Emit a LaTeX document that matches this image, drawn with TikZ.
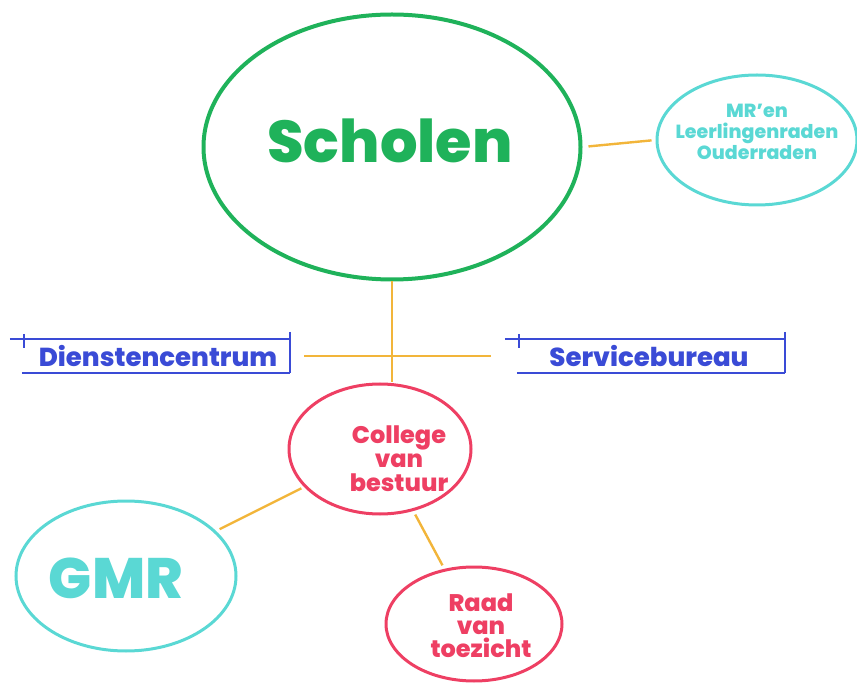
\documentclass[tikz,border=0pt]{standalone}
\usepackage{fontspec}
\setmainfont{Poppins}[BoldFont={Poppins ExtraBold}]
\usetikzlibrary{shapes.geometric}

\definecolor{schoolgreen}{HTML}{1FB25A}
\definecolor{raadteal}{HTML}{5AD8D4}
\definecolor{bestuurred}{HTML}{EE3F63}
\definecolor{bureaublue}{HTML}{3A4BD6}
\definecolor{lijnorange}{HTML}{F2B53A}

\tikzset{
	bubble/.style={ellipse,draw,line width=3pt,inner sep=0pt},
	bubbletekst/.style={align=center,inner sep=0pt},
	bureau/.style={minimum height=34pt,inner sep=0pt,text=bureaublue,font=\bfseries\fontsize{26}{28}\selectfont},
	bureaulijn/.style={draw=bureaublue,line width=2.2pt},
	verbinding/.style={draw=lijnorange,line width=2.4pt}
}

\begin{document}
\begin{tikzpicture}[x=1pt,y=-1pt]
			\useasboundingbox (0,0) rectangle (857,684);

			% de cirkels
			\node[bubble,draw=schoolgreen,line width=4pt,minimum width=377pt,minimum height=265pt,
				label={[bubbletekst,text=schoolgreen,font=\bfseries\fontsize{59}{62}\selectfont,xshift=-2pt,yshift=6pt]center:Scholen}] (scholen) at (392,147) {};
			\node[bubble,draw=raadteal,minimum width=200pt,minimum height=130pt,
				label={[bubbletekst,text=raadteal,font=\bfseries\fontsize{19}{21}\selectfont,yshift=8pt]center:{MR'en\\Leerlingenraden\\Ouderraden}}] (mr) at (757,140) {};
			\node[bubble,draw=bestuurred,minimum width=182pt,minimum height=130pt,
				label={[bubbletekst,text=bestuurred,font=\bfseries\fontsize{24}{24}\selectfont,xshift=19pt,yshift=-10pt]center:{College\\van\\bestuur}}] (cvb) at (380,449) {};
			\node[bubble,draw=raadteal,minimum width=220pt,minimum height=150pt,
				label={[bubbletekst,text=raadteal,font=\bfseries\fontsize{57}{60}\selectfont,xshift=-10pt,yshift=-2pt]center:GMR}] (gmr) at (126,576) {};
			\node[bubble,draw=bestuurred,minimum width=176pt,minimum height=114pt,
				label={[bubbletekst,text=bestuurred,font=\bfseries\fontsize{24}{23}\selectfont,xshift=7pt,yshift=-2pt]center:{Raad\\van\\toezicht}}] (rvt) at (474,624) {};

			% de bureaus
			\node[bureau,minimum width=280pt] (dienst) at (150,356) {\hspace*{16pt}Dienstencentrum};
			\node[bureau,minimum width=280pt] (service) at (645,356) {\hspace*{8pt}Servicebureau};
			\foreach \b in {dienst,service}
			{
				\draw[bureaulijn] (\b.north west) -- (\b.north east);
				\draw[bureaulijn] ([xshift=12pt]\b.south west) -- (\b.south east);
				\draw[bureaulijn] ([yshift=7pt]\b.north east) -- (\b.south east);
				\draw[bureaulijn] ([xshift=14pt,yshift=5pt]\b.north west) -- ++(0,14);
			}

			% verbindingen
			\draw[verbinding] (scholen.south) -- (cvb.north -| scholen.south);
			\draw[verbinding,shorten <=14pt,shorten >=14pt] (dienst.east) -- (service.west);
			\draw[verbinding,shorten <=6pt,shorten >=4pt] (scholen.east) -- (mr.west);
			\draw[verbinding,shorten <=3pt,shorten >=4pt] (cvb) -- (gmr);
			\draw[verbinding,shorten <=4pt,shorten >=4pt] (cvb) -- (rvt);
		\end{tikzpicture}
\end{document}
